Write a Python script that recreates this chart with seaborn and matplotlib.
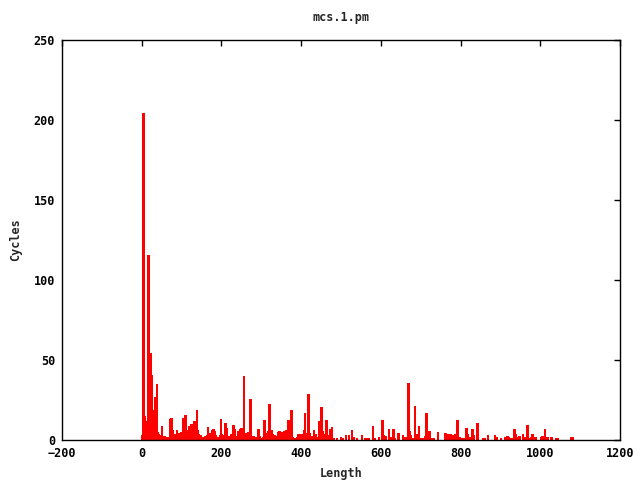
import matplotlib
matplotlib.use("Agg")
import matplotlib.pyplot as plt
import seaborn as sns
import pandas as pd

# Impulse data (length -> cycles)
lengths = [0, 4, 6, 8, 10, 12, 14, 17, 19, 20, 22, 24, 25, 27, 29, 31, 33, 35, 37, 39,
           41, 43, 46, 48, 51, 54, 57, 60, 66, 71, 73, 75, 78, 80, 83, 86, 88, 92, 95, 98,
           103, 106, 108, 110, 113, 116, 120, 123, 126, 128, 132, 135, 139, 141, 144, 148,
           152, 156, 160, 164, 167, 170, 174, 177, 180, 183, 186, 189, 192, 196, 199, 202,
           206, 210, 213, 216, 220, 225, 230, 233, 236, 240, 243, 247, 250, 252, 254, 257,
           260, 263, 266, 268, 273, 276, 280, 284, 288, 293, 296, 300, 304, 308, 311, 314,
           318, 321, 324, 327, 330, 334, 338, 342, 346, 350, 354, 358, 362, 365, 368, 371,
           376, 380, 385, 390, 393, 397, 401, 405, 407, 410, 413, 415, 418, 421, 425, 428,
           432, 436, 440, 445, 448, 451, 454, 459, 464, 467, 472, 475, 478, 483, 490, 500,
           505, 512, 520, 528, 532, 540, 553, 560, 565, 570, 581, 585, 596, 604, 608, 612,
           620, 625, 632, 636, 644, 656, 662, 665, 669, 672, 676, 680, 686, 688, 692, 695,
           700, 706, 712, 715, 718, 722, 728, 733, 744, 762, 766, 770, 775, 779, 783, 787,
           792, 798, 803, 808, 815, 819, 823, 826, 830, 834, 842, 856, 862, 869, 887, 890,
           902, 912, 918, 922, 927, 932, 935, 938, 944, 948, 956, 960, 968, 972, 976, 980,
           984, 990, 1002, 1006, 1012, 1018, 1028, 1040, 1044, 1077, 1082]
cycles = [3, 204, 12, 15, 12, 11, 12, 115, 22, 20, 54, 11, 40, 18, 8, 10, 8, 26, 9, 35,
          5, 4, 3, 2, 9, 2, 2, 1, 2, 13, 4, 13, 6, 3, 4, 2, 6, 2, 4, 5,
          14, 6, 15, 15, 6, 4, 8, 10, 10, 5, 11, 4, 19, 6, 4, 3,
          2, 2, 2, 3, 8, 4, 3, 6, 6, 5, 3, 2, 2, 3, 13, 4,
          3, 10, 7, 2, 2, 3, 9, 6, 2, 2, 5, 7, 7, 4, 3, 40,
          4, 4, 5, 3, 25, 2, 2, 1, 1, 6, 2, 1, 2, 12, 4, 2,
          5, 22, 3, 6, 4, 3, 2, 5, 5, 5, 5, 5, 6, 4, 12, 8,
          18, 2, 1, 2, 3, 2, 3, 1, 6, 17, 4, 3, 28, 4, 2, 2,
          6, 3, 2, 12, 4, 20, 5, 3, 12, 3, 7, 4, 8, 1, 1, 2,
          1, 3, 3, 6, 2, 1, 3, 1, 1, 1, 9, 1, 2, 12, 3, 2,
          7, 2, 6, 1, 4, 3, 1, 1, 35, 5, 3, 1, 21, 2, 3, 9,
          1, 1, 2, 16, 1, 5, 1, 1, 5, 4, 4, 3, 3, 3, 3, 3,
          12, 2, 1, 1, 7, 4, 2, 2, 6, 3, 10, 1, 1, 3, 3, 1,
          1, 2, 2, 2, 1, 1, 6, 3, 2, 2, 4, 1, 9, 1, 2, 3,
          2, 2, 2, 2, 7, 1, 1, 1, 1, 2, 2]

x_ticks = [-200, 0, 200, 400, 600, 800, 1000, 1200]
y_ticks = [0, 50, 100, 150, 200, 250]

df = pd.DataFrame({"Length": lengths, "Cycles": cycles})

sns.set_style("white")
plt.rcParams["font.family"] = ["DejaVu Sans Mono"]
plt.rcParams["font.weight"] = "bold"

fig = plt.figure(figsize=(6.4, 4.8), dpi=100)
ax = fig.add_axes([62 / 640, 40 / 480, 558 / 640, 400 / 480])

# gnuplot-style impulses: one bin per integer length, hairline edges
sns.histplot(data=df, x="Length", weights="Cycles", binwidth=1, binrange=(-0.5, 1090.5),
             color="red", edgecolor="red", linewidth=0.1, alpha=1,
             antialiased=False, ax=ax)
for p in list(ax.patches):
    if p.get_height() == 0:
        p.remove()

ax.set_xlim(-200, 1200)
ax.set_ylim(0, 250)
ax.set_xticks(x_ticks)
ax.set_yticks(y_ticks)
ax.tick_params(direction="in", length=4, width=1, top=True, right=True,
               labelsize=8.5, colors="black", pad=5)
for lab in ax.get_xticklabels() + ax.get_yticklabels():
    lab.set_fontweight("bold")
for s in ax.spines.values():
    s.set_color("black")
    s.set_linewidth(1)

ax.set_title("mcs.1.pm", fontsize=8.5, fontweight="bold", pad=14)
ax.set_xlabel("Length", fontsize=8.5, fontweight="bold", labelpad=5)
ax.set_ylabel("Cycles", fontsize=8.5, fontweight="bold", labelpad=8)

fig.savefig("out.png", dpi=100)
